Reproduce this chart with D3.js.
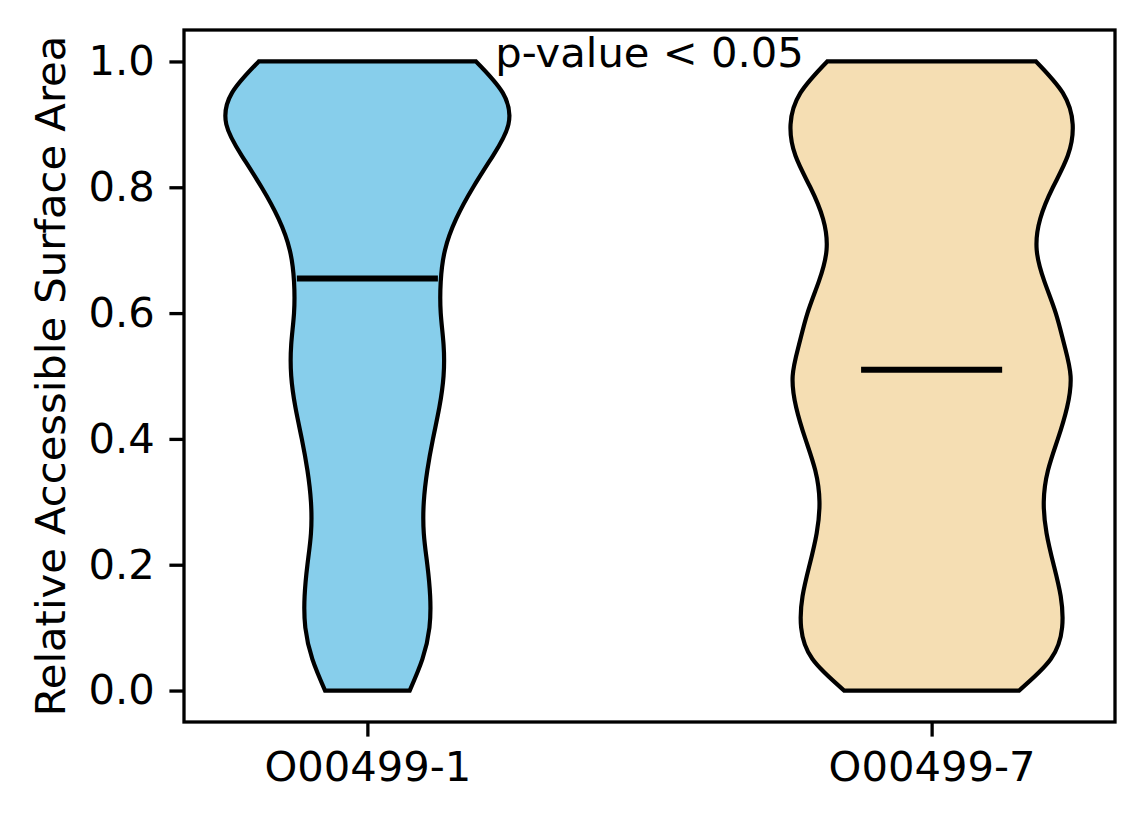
<!DOCTYPE html>
<html>
<head>
<meta charset="utf-8">
<script src="https://cdn.jsdelivr.net/npm/d3@7"></script>
<style>
  body { margin: 0; background: #fff; }
  text { font-family: "DejaVu Sans", sans-serif; fill: #000; }
</style>
</head>
<body>
<div id="chart"></div>
<script>

// groups and their x positions
var groups = ["O00499-1", "O00499-7"];
var positions = [1, 2];
var colors = ["#87CEEB", "#F5DEB3"];

// density profile (relative half width) read at these y values
var gridY = [0, 0.05, 0.1, 0.15, 0.2, 0.25, 0.3, 0.35, 0.4, 0.45, 0.5,
             0.55, 0.6, 0.65, 0.7, 0.75, 0.8, 0.85, 0.9, 0.95, 1.0];

var density1 = [0.30, 0.39, 0.44, 0.445, 0.425, 0.40, 0.40, 0.425, 0.465, 0.51, 0.54,
                0.54, 0.52, 0.52, 0.55, 0.63, 0.75, 0.89, 1.0, 0.96, 0.77];
var density7 = [0.62, 0.845, 0.925, 0.915, 0.865, 0.815, 0.795, 0.825, 0.895, 0.96, 0.985,
                0.94, 0.88, 0.80, 0.745, 0.77, 0.86, 0.965, 1.0, 0.93, 0.74];

var medians = [0.655, 0.51];

var yTicks = [0.0, 0.2, 0.4, 0.6, 0.8, 1.0];
var pText = "p-value < 0.05";


var chart = {
    init: function(){

        var width = 1144, height = 824;
        var margin = {top: 30, right: 29, bottom: 102, left: 184};
        var fontSize = 41.7;
        var tickLen = 14.6;

        var svg = d3.select("#chart").append("svg")
            .attr("width", width)
            .attr("height", height)

        var x = d3.scaleLinear()
            .domain([0.675, 2.325])
            .range([margin.left, width - margin.right]);

        var y = d3.scaleLinear()
            .domain([-0.05, 1.05])
            .range([height - margin.bottom, margin.top]);

        var halfWidth = 0.25;
        var densities = [density1, density7];

        densities.forEach(function(dens, i){
            var maxD = d3.max(dens);
            var pos = positions[i];
            var pts = gridY.map(function(v, j){ return {y: v, w: dens[j] / maxD * halfWidth}; });

            var area = d3.area()
                .curve(d3.curveNatural)
                .y(function(d){ return y(d.y); })
                .x0(function(d){ return x(pos - d.w); })
                .x1(function(d){ return x(pos + d.w); });

            svg.append("path")
                .datum(pts)
                .attr("d", area)
                .attr("fill", colors[i])
                .attr("stroke", "black")
                .attr("stroke-width", 4.2)
                .attr("stroke-linejoin", "miter");

            svg.append("line")
                .attr("x1", x(pos - halfWidth / 2))
                .attr("x2", x(pos + halfWidth / 2))
                .attr("y1", y(medians[i]))
                .attr("y2", y(medians[i]))
                .attr("stroke", "black")
                .attr("stroke-width", 6);
        });

        // y axis
        var yAxis = d3.axisLeft(y)
            .tickValues(yTicks)
            .tickFormat(d3.format(".1f"))
            .tickSize(tickLen)
            .tickPadding(14.6);

        var gy = svg.append("g")
            .attr("transform", "translate(" + margin.left + ",0)")
            .call(yAxis);

        // x axis
        var xAxis = d3.axisBottom(x)
            .tickValues(positions)
            .tickFormat(function(d, i){ return groups[i]; })
            .tickSize(tickLen)
            .tickPadding(14.6);

        var gx = svg.append("g")
            .attr("transform", "translate(0," + (height - margin.bottom) + ")")
            .call(xAxis);

        [gx, gy].forEach(function(g){
            g.select(".domain").remove();
            g.selectAll(".tick line").attr("stroke", "black").attr("stroke-width", 3.3);
            g.selectAll(".tick text")
                .attr("font-size", fontSize)
                .attr("font-family", "DejaVu Sans")
                .attr("fill", "black");
        });

        // frame
        svg.append("rect")
            .attr("x", margin.left)
            .attr("y", margin.top)
            .attr("width", width - margin.left - margin.right)
            .attr("height", height - margin.top - margin.bottom)
            .attr("fill", "none")
            .attr("stroke", "black")
            .attr("stroke-width", 3.3);

        // y label
        svg.append("text")
            .attr("transform", "translate(65," + ((margin.top + height - margin.bottom) / 2) + ") rotate(-90)")
            .attr("text-anchor", "middle")
            .attr("font-size", fontSize)
            .text("Relative Accessible Surface Area");

        // p-value annotation
        svg.append("text")
            .attr("x", x(1.5))
            .attr("y", y(1.0) + 6)
            .attr("text-anchor", "middle")
            .attr("font-size", fontSize)
            .text(pText);
    }
}

chart.init();
</script>
</body>
</html>
